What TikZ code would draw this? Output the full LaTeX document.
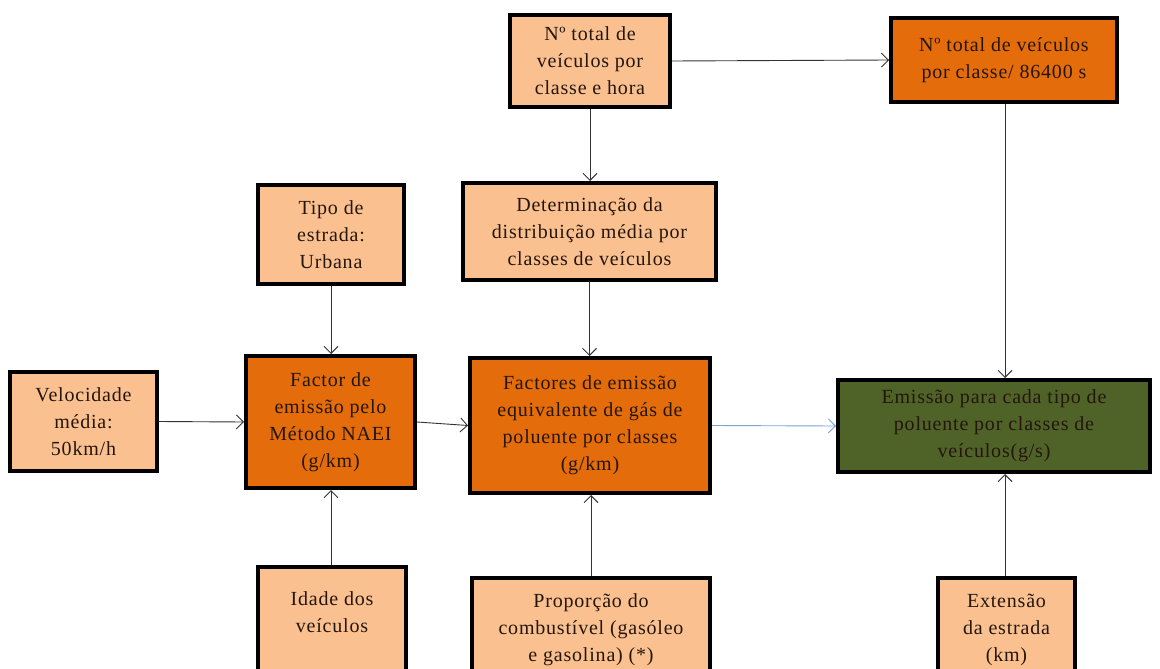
\documentclass[tikz,border=0pt]{standalone}
\usepackage{fontspec}
\setmainfont{Liberation Serif}[LetterSpace=4]
\usetikzlibrary{arrows.meta}
\definecolor{lightor}{HTML}{FAC090}
\definecolor{darkor}{HTML}{E46C0A}
\definecolor{olive}{HTML}{4F6228}
\definecolor{txt}{HTML}{24160C}
\definecolor{bluearr}{HTML}{7FA2D6}
\tikzset{
  box/.style={draw=black, line width=4pt, align=center, inner sep=2pt,
    font=\fontsize{20}{27}\selectfont, text=txt},
  light/.style={box, fill=lightor},
  dark/.style={box, fill=darkor},
  green/.style={box, fill=olive},
  conn/.style={line width=0.9pt, draw=black!80, -{Straight Barb[length=7pt,width=14pt,line width=0.9pt]}},
}
\begin{document}
\begin{tikzpicture}[x=1pt,y=-1pt]
\useasboundingbox (0,0) rectangle (1160,669);
\fill[white] (0,0) rectangle (1160,669);
\clip (0,0) rectangle (1160,669);
\node[light, minimum width=160pt, minimum height=92pt] (A) at (590,61) {Nº total de\\veículos por\\classe e hora};
\node[dark, minimum width=226pt, minimum height=84pt] (B) at (1004,60) {Nº total de veículos\\por classe/ 86400 s};
\node[light, minimum width=146pt, minimum height=99pt] (C) at (331,234.5) {Tipo de\\estrada:\\Urbana};
\node[light, minimum width=253pt, minimum height=97pt] (D) at (589.5,231.5) {Determinação da\\distribuição média por\\classes de veículos};
\node[light, minimum width=147pt, minimum height=99pt] (E) at (83.5,421.5) {Velocidade\\média:\\50km/h};
\node[dark, minimum width=169pt, minimum height=132pt] (F) at (330.5,422) {Factor de\\emissão pelo\\Método NAEI\\(g/km)};
\node[dark, minimum width=240pt, minimum height=135pt] (G) at (590,425.5) {Factores de emissão\\equivalente de gás de\\poluente por classes\\(g/km)};
\node[green, minimum width=312pt, minimum height=92pt] (H) at (994,426) {Emissão para cada tipo de\\poluente por classes de\\veículos(g/s)};
\node[light, minimum width=148pt, minimum height=126pt] (I) at (332,630) {Idade dos\\veículos\\\strut};
\node[light, minimum width=238pt, minimum height=104pt] (J) at (591,630) {Proporção do\\combustível (gasóleo\\e gasolina) (*)};
\node[light, minimum width=137pt, minimum height=104pt] (K) at (1006.5,630) {Extensão\\da estrada\\(km)};
\draw[conn] (A.east) -- (B.west);
\draw[conn] (A.south) -- (A.south |- D.north);
\draw[conn] (D.south) -- (D.south |- G.north);
\draw[conn] (C.south) -- (C.south |- F.north);
\draw[conn] (E.east) -- (F.west);
\draw[conn] (F.east) -- (G.west);
\draw[conn, draw=bluearr] (G.east) -- (H.west);
\draw[conn] (B.south -| 1005,0) -- (1005,0 |- H.north);
\draw[conn] (I.north -| 331,0) -- (331,0 |- F.south);
\draw[conn] (J.north -| 591,0) -- (591,0 |- G.south);
\draw[conn] (K.north -| 1005,0) -- (1005,0 |- H.south);
\end{tikzpicture}
\end{document}
